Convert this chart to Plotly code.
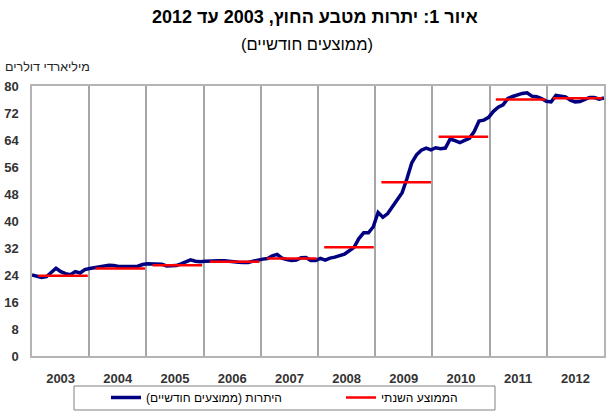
import plotly.graph_objects as go

# ---- data ----
years = [2003, 2004, 2005, 2006, 2007, 2008, 2009, 2010, 2011, 2012]
year_labels = [str(y) for y in years]

monthly_reserves = [
    # 2003
    24.0, 23.6, 23.3, 23.5, 24.8, 26.0, 25.0, 24.4, 24.1, 25.0, 24.6, 25.6,
    # 2004
    25.9, 26.2, 26.4, 26.6, 26.9, 26.8, 26.5, 26.5, 26.4, 26.5, 26.6, 27.1,
    # 2005
    27.3, 27.3, 27.3, 27.2, 26.7, 26.7, 26.8, 27.3, 27.8, 28.5, 28.1, 27.9,
    # 2006
    28.1, 28.2, 28.2, 28.2, 28.2, 28.0, 27.9, 27.8, 27.7, 27.7, 28.1, 28.5,
    # 2007
    28.7, 28.9, 29.7, 30.1, 29.0, 28.6, 28.3, 28.4, 29.1, 29.2, 28.3, 28.3,
    # 2008
    28.9, 28.4, 29.0, 29.3, 29.7, 30.2, 31.2, 32.2, 34.8, 36.5, 36.5, 38.3,
    # 2009
    42.5, 41.1, 42.2, 44.4, 46.3, 48.4, 52.5, 57.2, 59.6, 61.0, 61.6, 61.1,
    # 2010
    61.7, 61.4, 61.6, 64.3, 63.8, 63.2, 63.9, 64.5, 66.5, 69.6, 69.9, 70.7,
    # 2011
    72.5, 73.7, 74.4, 76.3, 76.9, 77.4, 77.8, 78.0, 77.0, 76.8, 76.3, 75.5,
    # 2012
    75.3, 77.2, 77.1, 76.8, 75.8, 75.3, 75.4, 75.9, 76.6, 76.6, 76.1, 76.5,
]

annual_average = [23.8, 25.9, 26.9, 27.9, 28.9, 32.2, 51.5, 65.0, 76.0, 76.4]

y_ticks = [0, 8, 16, 24, 32, 40, 48, 56, 64, 72, 80]

title_text = "איור 1: יתרות מטבע החוץ, 2003 עד 2012"
subtitle_text = "(ממוצעים חודשיים)"
y_title = "מיליארדי דולרים"
name_monthly = "היתרות (ממוצעים חודשיים)"
name_annual = "הממוצע השנתי"


def rtl(s):
    return "\u202b" + s + "\u202c"


# ---- geometry helpers ----
n = len(monthly_reserves)
x_month = [i * (12 * len(years)) / (n - 1) for i in range(n)]

red_x, red_y = [], []
for k, v in enumerate(annual_average):
    red_x += [12 * k + 1.3, 12 * k + 11.7, None]
    red_y += [v, v, None]

FONT = "Liberation Sans, Arial, DejaVu Sans, sans-serif"

fig = go.Figure()
fig.add_trace(go.Scatter(
    x=x_month, y=monthly_reserves, mode="lines",
    line=dict(color="#000080", width=3.5),
    name=rtl(name_monthly), showlegend=True,
))
fig.add_trace(go.Scatter(
    x=red_x, y=red_y, mode="lines",
    line=dict(color="#ff0000", width=2.5),
    name=rtl(name_annual), connectgaps=False,
))

W, H = 612, 415
L, R, T, B = 32, 8, 86, 59
pw, ph = W - L - R, H - T - B


def px_x(p):
    return (p - L) / pw


def px_y(p):
    return (H - B - p) / ph


fig.update_layout(
    width=W, height=H,
    margin=dict(l=L, r=R, t=T, b=B, autoexpand=False),
    paper_bgcolor="white", plot_bgcolor="white",
    font=dict(family=FONT, color="#000000", size=12),
    showlegend=True,
    legend=dict(
        orientation="h", x=px_x(106), xanchor="left",
        y=px_y(383), yanchor="top",
        bgcolor="rgba(0,0,0,0)", borderwidth=0,
        entrywidth=190, entrywidthmode="pixels",
        font=dict(size=12, family=FONT),
        traceorder="normal",
    ),
    xaxis=dict(
        range=[0, 12 * len(years)],
        tickmode="array",
        tickvals=[12 * k + 6 for k in range(len(years))],
        ticktext=year_labels,
        showgrid=False, zeroline=False, automargin=False,
        ticks="", ticklabelstandoff=10,
        tickfont=dict(size=13, family=FONT, color="#333333", weight="bold"),
        showline=True, linecolor="#b4b4b4", linewidth=1.5, mirror=True,
        minor=dict(tick0=0, dtick=12, showgrid=True,
                   gridcolor="#a6a6a6", gridwidth=1.5),
    ),
    yaxis=dict(
        range=[0, 80], tickmode="array", tickvals=y_ticks,
        showgrid=False, zeroline=False, automargin=False,
        ticks="", ticklabelstandoff=9,
        tickfont=dict(size=13, family=FONT, color="#333333", weight="bold"),
        showline=True, linecolor="#b4b4b4", linewidth=1.5, mirror=True,
    ),
    shapes=[dict(
        type="rect", xref="paper", yref="paper",
        x0=px_x(74), x1=px_x(495), y0=px_y(386), y1=px_y(410),
        line=dict(color="#808080", width=1), fillcolor="rgba(0,0,0,0)",
    )],
    annotations=[
        dict(text=rtl(title_text), xref="paper", yref="paper",
             x=px_x(315), y=px_y(17), xanchor="center", yanchor="middle",
             showarrow=False, font=dict(size=18, family=FONT, weight="bold")),
        dict(text=rtl(subtitle_text), xref="paper", yref="paper",
             x=px_x(307), y=px_y(44), xanchor="center", yanchor="middle",
             showarrow=False, font=dict(size=16.5, family=FONT)),
        dict(text=rtl(y_title), xref="paper", yref="paper",
             x=px_x(92), y=px_y(67), xanchor="right", yanchor="middle",
             showarrow=False,
             font=dict(size=12.5, family=FONT, color="#222222")),
    ],
)

fig.write_html("out.html", config={"displayModeBar": False},
               post_script="document.body.style.margin='0';")
